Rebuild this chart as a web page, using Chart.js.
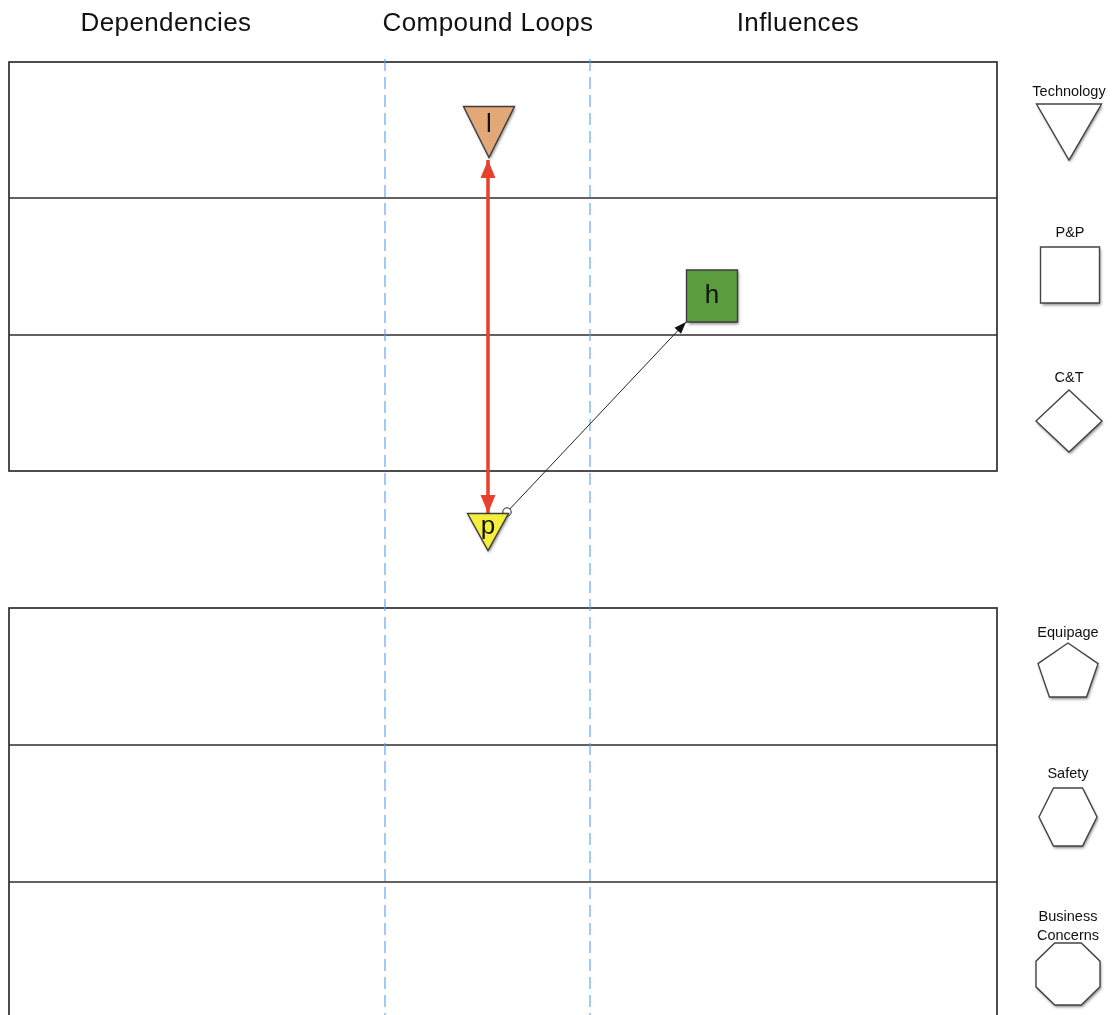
<!DOCTYPE html>
<html>
<head>
<meta charset="utf-8">
<script src="https://cdn.jsdelivr.net/npm/chart.js@4/dist/chart.umd.min.js"></script>
<style>
  html, body { margin: 0; padding: 0; background: #fff; }
  #wrap { width: 1116px; height: 1015px; position: relative; }
</style>
</head>
<body>
<div id="wrap"><canvas id="loopChart"></canvas></div>
<script>
// ---- data (diagram units: 0..1116 across, 0..1015 down) ----
const columnHeaders = ['Dependencies', 'Compound Loops', 'Influences'];
const headerX = [166, 488, 798];
const headerY = 24;

const laneLeft = 9;
const laneRight = 997;
const upperLaneEdges = [62, 198, 335, 471];
const lowerLaneEdges = [608, 745, 882, 1040];
const dividerX = [385, 590];

const nodeNames = ['l', 'h', 'p'];
const nodeX = [489, 712, 488];
const nodeY = [132, 296, 532];
const nodeKind = ['Technology', 'P&P', 'Technology'];

const legendNames = ['Technology', 'P&P', 'C&T', 'Equipage', 'Safety', 'Business\nConcerns'];
const legendKind = ['Technology', 'P&P', 'C&T', 'Equipage', 'Safety', 'Business Concerns'];
const legendX = [1069, 1070, 1069, 1068, 1068, 1068];
const legendLabelY = [92, 233, 378, 633, 774, 917];
const legendShapeY = [132, 275, 421, 670, 817, 974];

const strongLink = [{ x: 488, y: 160 }, { x: 488, y: 513 }]; // l <-> p
const weakLink = [{ x: 507, y: 512 }, { x: 686, y: 322 }];   // p -> h

// ---- styles ----
const nodeFill = ['#e2a878', '#5b9c3f', '#f3ef3c'];
const nodeSize = [[51, 51], [51, 52], [41, 37]];
const legendSize = [[65, 56], [59, 56], [66, 62], [60, 54], [58, 58], [64, 62]];

function shapePoints(kind, w, h) {
  let pts;
  if (kind === 'Technology') {
    pts = [[-0.5, -0.5], [0.5, -0.5], [0, 0.5]];
  } else if (kind === 'P&P') {
    pts = [[-0.5, -0.5], [0.5, -0.5], [0.5, 0.5], [-0.5, 0.5]];
  } else if (kind === 'C&T') {
    pts = [[0, -0.5], [0.5, 0], [0, 0.5], [-0.5, 0]];
  } else {
    const n = { 'Equipage': 5, 'Safety': 6, 'Business Concerns': 8 }[kind];
    const start = { 'Equipage': -Math.PI / 2, 'Safety': 0, 'Business Concerns': Math.PI / 8 }[kind];
    const raw = [];
    for (let i = 0; i < n; i++) {
      const a = start + i * 2 * Math.PI / n;
      raw.push([Math.cos(a), Math.sin(a)]);
    }
    const xs = raw.map(p => p[0]), ys = raw.map(p => p[1]);
    const minX = Math.min(...xs), maxX = Math.max(...xs);
    const minY = Math.min(...ys), maxY = Math.max(...ys);
    pts = raw.map(([a, b]) => [(a - minX) / (maxX - minX) - 0.5, (b - minY) / (maxY - minY) - 0.5]);
  }
  return pts.map(([a, b]) => [a * w, b * h]);
}

function drawShape(ctx, kind, cx, cy, w, h, fill, stroke) {
  const pts = shapePoints(kind, w, h);
  ctx.beginPath();
  pts.forEach(([a, b], i) => i ? ctx.lineTo(cx + a, cy + b) : ctx.moveTo(cx + a, cy + b));
  ctx.closePath();
  ctx.save();
  ctx.shadowColor = 'rgba(0,0,0,0.5)';
  ctx.shadowBlur = 3;
  ctx.shadowOffsetX = 1;
  ctx.shadowOffsetY = 2;
  ctx.fillStyle = fill;
  ctx.fill();
  ctx.restore();
  ctx.lineWidth = 1.4;
  ctx.strokeStyle = stroke;
  ctx.stroke();
}

function arrowHead(ctx, from, to, len, half, color) {
  const ang = Math.atan2(to.y - from.y, to.x - from.x);
  ctx.save();
  ctx.translate(to.x, to.y);
  ctx.rotate(ang);
  ctx.beginPath();
  ctx.moveTo(0, 0);
  ctx.lineTo(-len, -half);
  ctx.lineTo(-len, half);
  ctx.closePath();
  ctx.fillStyle = color;
  ctx.fill();
  ctx.restore();
}

const diagramPlugin = {
  id: 'diagram',
  beforeDatasetsDraw(chart) {
    const { ctx, scales: { x, y } } = chart;
    ctx.save();
    // column headers
    ctx.font = '26px "Liberation Sans", Arial, sans-serif';
    ctx.letterSpacing = '0.4px';
    ctx.fillStyle = '#111';
    ctx.textAlign = 'center';
    ctx.textBaseline = 'middle';
    columnHeaders.forEach((t, i) => ctx.fillText(t, x.getPixelForValue(headerX[i]), y.getPixelForValue(headerY)));
    ctx.letterSpacing = '0px';

    // lane blocks
    ctx.strokeStyle = '#2e2e2e';
    ctx.lineWidth = 1.7;
    const xl = x.getPixelForValue(laneLeft), xr = x.getPixelForValue(laneRight);
    [upperLaneEdges, lowerLaneEdges].forEach(edges => {
      const top = y.getPixelForValue(edges[0]);
      const bot = y.getPixelForValue(edges[edges.length - 1]);
      ctx.strokeRect(xl, top, xr - xl, bot - top);
      edges.slice(1, -1).forEach(e => {
        const py = y.getPixelForValue(e);
        ctx.beginPath();
        ctx.moveTo(xl, py);
        ctx.lineTo(xr, py);
        ctx.stroke();
      });
    });

    // dashed column dividers
    ctx.strokeStyle = '#4ea3ee';
    ctx.lineWidth = 1.1;
    ctx.setLineDash([12, 6]);
    dividerX.forEach(d => {
      const px = x.getPixelForValue(d);
      ctx.beginPath();
      ctx.moveTo(px, y.getPixelForValue(59));
      ctx.lineTo(px, y.getPixelForValue(1015));
      ctx.stroke();
    });
    ctx.setLineDash([]);
    ctx.restore();
  },
  afterDatasetsDraw(chart) {
    const ctx = chart.ctx;
    ctx.save();

    // arrow heads on links
    const strong = chart.getDatasetMeta(0).data;
    arrowHead(ctx, strong[1], strong[0], 18, 7.5, '#e8402c');
    arrowHead(ctx, strong[0], strong[1], 18, 7.5, '#e8402c');
    const weak = chart.getDatasetMeta(1).data;
    arrowHead(ctx, weak[0], weak[1], 12, 4.5, '#111');
    ctx.beginPath();
    ctx.arc(weak[0].x, weak[0].y, 4.2, 0, Math.PI * 2);
    ctx.fillStyle = '#fff';
    ctx.fill();
    ctx.lineWidth = 1;
    ctx.strokeStyle = '#222';
    ctx.stroke();

    // nodes
    const nodes = chart.getDatasetMeta(2).data;
    nodes.forEach((pt, i) => {
      const [w, h] = nodeSize[i];
      drawShape(ctx, nodeKind[i], pt.x, pt.y, w, h, nodeFill[i], '#3c3c3c');
      ctx.font = '26px "Liberation Sans", Arial, sans-serif';
      ctx.fillStyle = '#111';
      ctx.textAlign = 'center';
      ctx.textBaseline = 'middle';
      const dy = nodeKind[i] === 'Technology' ? -h * 0.15 : 0;
      ctx.fillText(nodeNames[i], pt.x, pt.y + dy);
    });

    // legend shapes + labels
    const legend = chart.getDatasetMeta(3).data;
    const y = chart.scales.y;
    legend.forEach((pt, i) => {
      const [w, h] = legendSize[i];
      drawShape(ctx, legendKind[i], pt.x, pt.y, w, h, '#ffffff', '#444');
      ctx.font = '14.5px "Liberation Sans", Arial, sans-serif';
      ctx.fillStyle = '#111';
      ctx.textAlign = 'center';
      ctx.textBaseline = 'middle';
      legendNames[i].split('\n').forEach((line, k) => {
        ctx.fillText(line, pt.x, y.getPixelForValue(legendLabelY[i] + k * 19));
      });
    });
    ctx.restore();
  }
};

new Chart(document.getElementById('loopChart'), {
  type: 'scatter',
  data: {
    datasets: [
      { label: 'l-p', data: strongLink, showLine: true, borderColor: '#e8402c', borderWidth: 3.5, pointRadius: 0 },
      { label: 'p-h', data: weakLink, showLine: true, borderColor: '#222', borderWidth: 1, pointRadius: 0 },
      { label: 'nodes', data: nodeX.map((v, i) => ({ x: v, y: nodeY[i] })), pointRadius: 0 },
      { label: 'legend', data: legendX.map((v, i) => ({ x: v, y: legendShapeY[i] })), pointRadius: 0 }
    ]
  },
  options: {
    responsive: true,
    maintainAspectRatio: false,
    animation: false,
    layout: { padding: 0 },
    plugins: { legend: { display: false }, tooltip: { enabled: false } },
    scales: {
      x: { type: 'linear', min: 0, max: 1116, display: false },
      y: { type: 'linear', min: 0, max: 1015, reverse: true, display: false }
    }
  },
  plugins: [diagramPlugin]
});
</script>
</body>
</html>
